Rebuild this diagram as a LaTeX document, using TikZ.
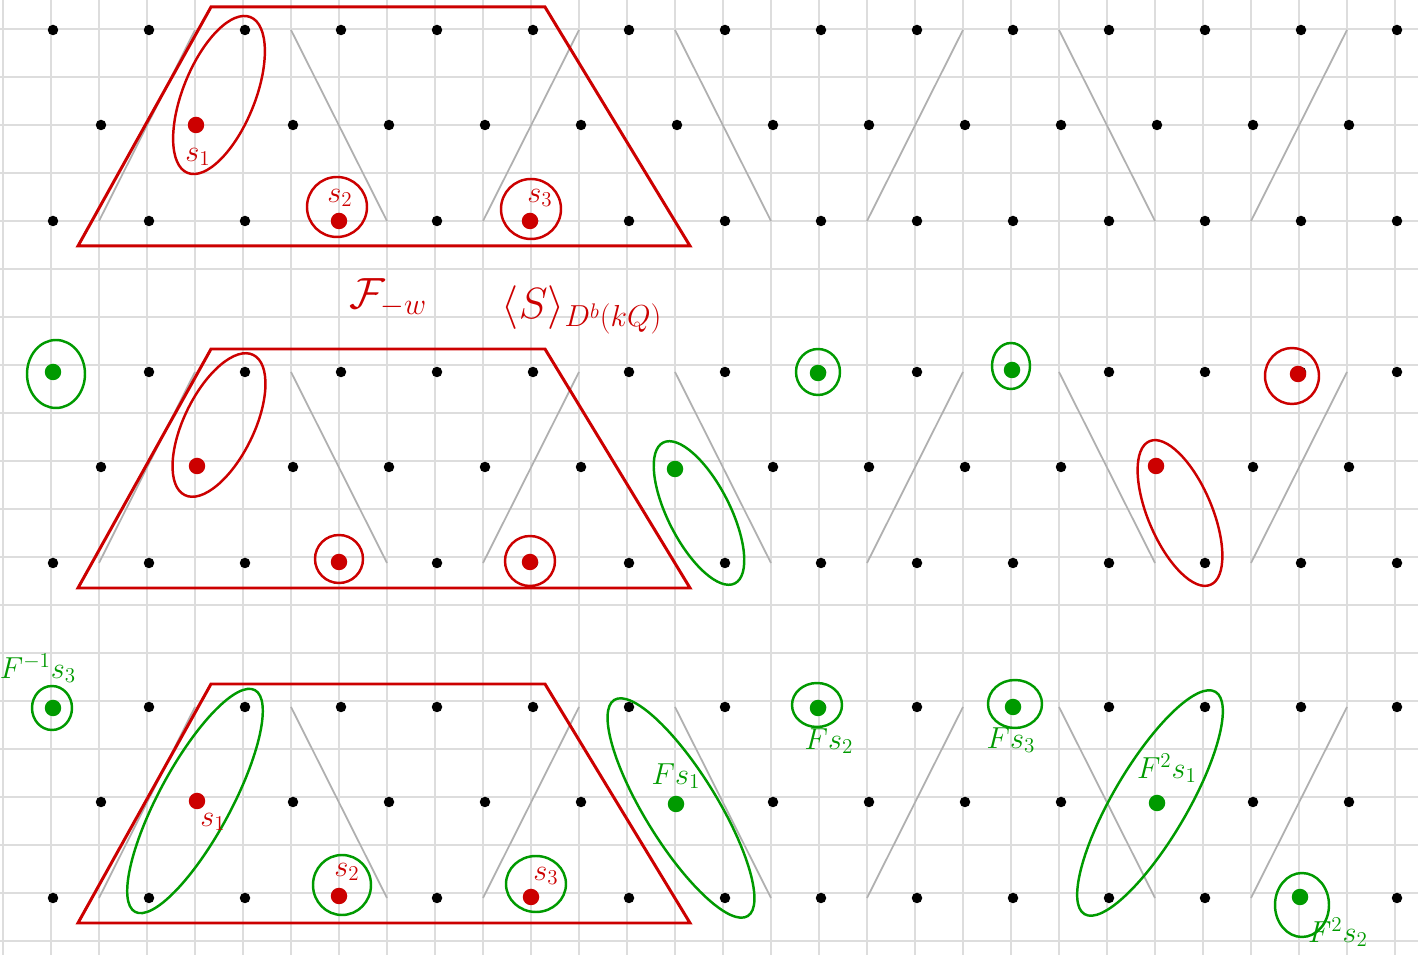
\documentclass[tikz,border=0pt]{standalone}
\usepackage{amsmath}
\usepackage{amssymb}
\usepackage{tikz}
\usetikzlibrary{calc}
\usepackage{xcolor}
\definecolor{cRed}{HTML}{CC0000}
\definecolor{cGreen}{HTML}{009A00}
\definecolor{cGrid}{HTML}{DDDDDD}
\definecolor{cZig}{HTML}{B0B0B0}

\begin{document}
\begin{tikzpicture}[
  x=0.02cm, y=-0.02cm,
  bdot/.style={circle, fill=black, inner sep=0pt, minimum size=0.21cm},
  rdot/.style={circle, fill=cRed, inner sep=0pt, minimum size=0.33cm},
  gdot/.style={circle, fill=cGreen, inner sep=0pt, minimum size=0.33cm},
  rloop/.style={draw=cRed, line width=1.4pt},
  gloop/.style={draw=cGreen, line width=1.4pt},
  trap/.style={draw=cRed, line width=1.7pt},
  zig/.style={draw=cZig, line width=1pt},
  rlab/.style={text=cRed, font=\fontsize{18}{20}\selectfont, inner sep=0pt},
  glab/.style={text=cGreen, font=\fontsize{18}{20}\selectfont, inner sep=0pt},
  biglab/.style={text=cRed, font=\fontsize{24}{26}\selectfont, inner sep=0pt}
]
\useasboundingbox (0,0) rectangle (1418,955);
\fill[white] (0,0) rectangle (1418,955);
% squared paper
\foreach \gx in {0,...,29}
  \draw[cGrid, line width=1.2pt] (3+48*\gx,0) -- (3+48*\gx,955);
\foreach \gy in {0,...,19}
  \draw[cGrid, line width=1.2pt] (0,29+48*\gy) -- (1418,29+48*\gy);

% three copies of the lattice with the zigzag and the trapezoid
\foreach \ry [count=\pn] in {30,372,707} {
  \foreach \xa/\xb in {99/195, 483/579, 867/963, 1251/1347}
    \draw[zig] (\xa,\ry+191) -- (\xb,\ry);
  \foreach \xa/\xb in {291/387, 675/771, 1059/1155}
    \draw[zig] (\xa,\ry) -- (\xb,\ry+191);
  \foreach \k in {0,...,14} {
    \node[bdot] (p\pn-a\k) at (53+96*\k,\ry) {};
    \node[bdot] (p\pn-c\k) at (53+96*\k,\ry+191) {};
  }
  \foreach \k in {0,...,13}
    \node[bdot] (p\pn-b\k) at (101+96*\k,\ry+95) {};
  \draw[trap] (211,\ry-23) -- (545,\ry-23) -- (690,\ry+216) -- (78,\ry+216) -- cycle;
}

% top: the simples
\node[rdot] (t-s1) at (196,125) {};
\node[rdot] (t-s2) at (339,221) {};
\node[rdot] (t-s3) at (530,221) {};
\draw[rloop, rotate around={68:(219,95)}] (219,95) ellipse [x radius=84, y radius=36];
\draw[rloop] (337,207) circle [radius=30];
\draw[rloop] (531,209) circle [radius=30];
\node[rlab] (t-l1) at (198,157) {$s_1$};
\node[rlab] (t-l2) at (340,198) {$s_2$};
\node[rlab] (t-l3) at (540,198) {$s_3$};

% middle
\node[biglab] (fw) at (388,298) {$\mathcal{F}_{-w}$};
\node[biglab] (sd) at (582,310) {$\langle S\rangle_{D^b(kQ)}$};
\node[gdot] (m-g1) at (53,372) {};
\node[rdot] (m-s1) at (197,466) {};
\node[rdot] (m-s2) at (339,562) {};
\node[rdot] (m-s3) at (530,562) {};
\node[gdot] (m-g2) at (675,469) {};
\node[gdot] (m-g3) at (818,373) {};
\node[gdot] (m-g4) at (1012,370) {};
\node[rdot] (m-r1) at (1156,466) {};
\node[rdot] (m-r2) at (1298,374) {};
\draw[gloop] (56,374) ellipse [x radius=29, y radius=34];
\draw[rloop, rotate around={64:(219,425)}] (219,425) ellipse [x radius=78, y radius=35];
\draw[rloop] (339,559) circle [radius=24];
\draw[rloop] (530,561) circle [radius=25];
\draw[gloop, rotate around={117:(699,513)}] (699,513) ellipse [x radius=79, y radius=31];
\draw[gloop] (818,372) ellipse [x radius=22, y radius=23];
\draw[gloop] (1011,366) ellipse [x radius=19, y radius=23];
\draw[rloop] (1292,376) ellipse [x radius=27, y radius=28];
\draw[rloop, rotate around={113:(1180,513)}] (1180,513) ellipse [x radius=78, y radius=32];

% bottom
\node[gdot] (b-g1) at (53,708) {};
\node[rdot] (b-s1) at (197,801) {};
\node[rdot] (b-s2) at (339,896) {};
\node[rdot] (b-s3) at (531,897) {};
\node[gdot] (b-g2) at (676,804) {};
\node[gdot] (b-g3) at (818,708) {};
\node[gdot] (b-g4) at (1013,707) {};
\node[gdot] (b-g5) at (1157,803) {};
\node[gdot] (b-g6) at (1300,897) {};
\draw[gloop] (52,708) ellipse [x radius=20, y radius=22];
\draw[gloop, rotate around={61.6:(195,801)}] (195,801) ellipse [x radius=126, y radius=36];
\draw[gloop] (342,885) ellipse [x radius=29, y radius=30];
\draw[gloop] (536,884) ellipse [x radius=30, y radius=28];
\draw[gloop, rotate around={121.7:(681,808)}] (681,808) ellipse [x radius=127, y radius=36];
\draw[gloop] (817,705) ellipse [x radius=25, y radius=22];
\draw[gloop] (1015,704) ellipse [x radius=27, y radius=24];
\draw[gloop, rotate around={59.5:(1150,803)}] (1150,803) ellipse [x radius=129, y radius=37];
\draw[gloop] (1302,905) ellipse [x radius=27, y radius=32];
\node[glab] (b-l0) at (38,668) {$F^{-1}s_3$};
\node[rlab] (b-l1) at (213,822) {$s_1$};
\node[rlab] (b-l2) at (347,872) {$s_2$};
\node[rlab] (b-l3) at (546,876) {$s_3$};
\node[glab] (b-l4) at (676,776) {$Fs_1$};
\node[glab] (b-l5) at (829,741) {$Fs_2$};
\node[glab] (b-l6) at (1011,740) {$Fs_3$};
\node[glab] (b-l7) at (1167,768) {$F^2s_1$};
\node[glab] (b-l8) at (1338,932) {$F^2s_2$};
\end{tikzpicture}
\end{document}
